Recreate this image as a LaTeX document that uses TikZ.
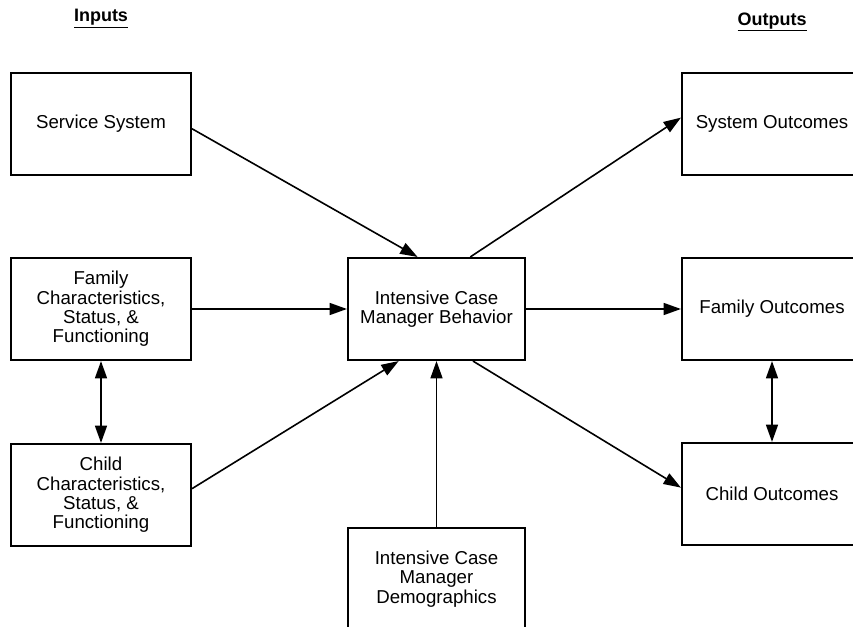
\documentclass[tikz,border=0pt]{standalone}
\usepackage{fontspec}
\setmainfont{Liberation Sans}
\usetikzlibrary{arrows.meta}

\begin{document}
\begin{tikzpicture}[%
    x=0.75pt, y=-0.75pt,
    >={Triangle[length=13pt,width=9pt]},
    box/.style={draw, line width=1.6pt, minimum width=135pt, minimum height=76.5pt,
      inner sep=0pt, align=center, font=\fontsize{14}{14.5}\selectfont},
    head/.style={font=\bfseries\fontsize{13.5}{14}\selectfont},
    link/.style={line width=1.2pt}
  ]
    \useasboundingbox (0,0) rectangle (853,627);
    \clip (0,0) rectangle (853,627);

    % column headings
    \node[head] (inputs)  at (101,19) {\underline{Inputs}};
    \node[head] (outputs) at (772,22) {\underline{Outputs}};

    % inputs
    \node[box] (svc) at (101,124) {Service System};
    \node[box] (fam) at (101,309) {Family\\Characteristics,\\Status, \&\\Functioning};
    \node[box] (chd) at (101,495) {Child\\Characteristics,\\Status, \&\\Functioning};

    % case manager
    \node[box, minimum width=132.75pt] (ctr) at (436.5,309) {Intensive Case\\Manager Behavior};
    \node[box, minimum width=132.75pt] (dem) at (436.5,579) {Intensive Case\\Manager\\Demographics};

    % outputs
    \node[box] (sysout) at (772,124) {System Outcomes};
    \node[box] (famout) at (772,309) {Family Outcomes};
    \node[box] (chdout) at (772,494) {Child Outcomes};

    \path[link] (svc.-3)    edge[->]  (ctr.110)
                (fam.east)  edge[->]  (ctr.west)
                (chd.4)     edge[->]  (ctr.234)
                (dem.north) edge[->]  (ctr.south)
                (fam.south) edge[<->] (chd.north)
                (ctr.57)    edge[->]  (sysout.176)
                (ctr.east)  edge[->]  (famout.west)
                (ctr.305)   edge[->]  (chdout.176)
                (famout.south) edge[<->] (chdout.north);
\end{tikzpicture}
\end{document}
